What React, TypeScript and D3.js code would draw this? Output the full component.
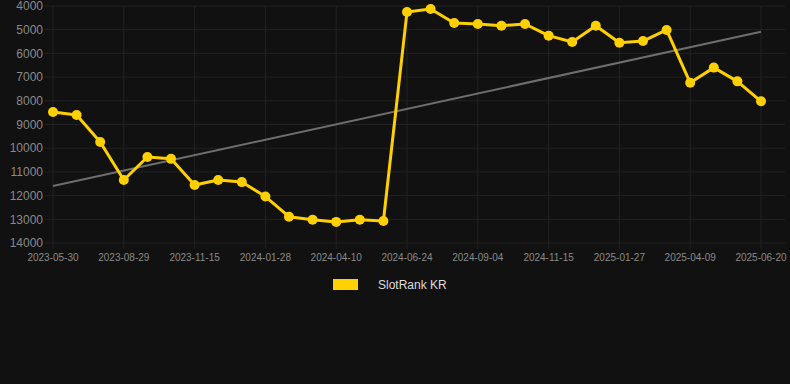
import React from "react";
import * as d3 from "d3";

const dates = [
  "2023-05-30","2023-06-22","2023-07-25","2023-08-29","2023-09-20","2023-10-18",
  "2023-11-15","2023-12-08","2024-01-05","2024-01-28","2024-02-20","2024-03-15",
  "2024-04-10","2024-05-05","2024-05-30","2024-06-24","2024-07-15","2024-08-10",
  "2024-09-04","2024-09-28","2024-10-22","2024-11-15","2024-12-10","2025-01-03",
  "2025-01-27","2025-02-20","2025-03-16","2025-04-09","2025-05-03","2025-05-27",
  "2025-06-20",
];
const ranks = [
  8470, 8600, 9740, 11340, 10370, 10450, 11550, 11340, 11430, 12040,
  12890, 13020, 13110, 13020, 13070, 4250, 4130, 4720, 4760, 4830,
  4760, 5250, 5520, 4830, 5550, 5480, 5010, 7240, 6600, 7180, 8020,
];
const yTicks = [4000, 5000, 6000, 7000, 8000, 9000, 10000, 11000, 12000, 13000, 14000];
const seriesName = "SlotRank KR";

const W = 790, H = 384;
const M = { left: 53, right: 29, top: 6, bottom: 141 };

export default function App() {
  const x = d3.scalePoint<number>().domain(d3.range(ranks.length)).range([M.left, W - M.right]);
  const y = d3.scaleLinear().domain([4000, 14000]).range([M.top, H - M.bottom]);

  // linear regression trend
  const n = ranks.length;
  const xs = d3.range(n);
  const mx = d3.mean(xs)!, my = d3.mean(ranks)!;
  const slope = d3.sum(xs, (i) => (i - mx) * (ranks[i] - my)) / d3.sum(xs, (i) => (i - mx) ** 2);
  const icpt = my - slope * mx;

  const line = d3.line<number>().x((_, i) => x(i)!).y((v) => y(v));
  const labelIdx = xs.filter((i) => i % 3 === 0);

  return (
    <div style={{ position: "fixed", left: 0, top: 0, width: W, height: H, background: "#111111" }}>
      <svg width={W} height={H} style={{ display: "block", fontFamily: "Arial, 'Liberation Sans', sans-serif" }}>
        <rect width={W} height={H} fill="#111111" />
        {yTicks.map((t) => (
          <g key={t}>
            <line x1={M.left - 8} x2={W - 5} y1={y(t)} y2={y(t)} stroke="#222222" strokeWidth={1} />
            <text x={M.left - 10} y={y(t)} dy="0.35em" textAnchor="end" fill="#8a8a8a" fontSize={12}>{t}</text>
          </g>
        ))}
        {labelIdx.map((i) => (
          <g key={i}>
            <line x1={x(i)} x2={x(i)} y1={M.top} y2={y(14000) + 6} stroke="#222222" strokeWidth={1} />
            <text x={x(i)} y={y(14000) + 18} textAnchor="middle" fill="#8a8a8a" fontSize={10}>{dates[i]}</text>
          </g>
        ))}
        <line
          x1={x(0)} y1={y(icpt)} x2={x(n - 1)} y2={y(icpt + slope * (n - 1))}
          stroke="#6e6e6e" strokeWidth={2}
        />
        <path d={line(ranks) || ""} fill="none" stroke="#FFD000" strokeWidth={3} strokeLinejoin="round" />
        {ranks.map((v, i) => (
          <circle key={i} cx={x(i)} cy={y(v)} r={5} fill="#FFD000" />
        ))}
        <rect x={333} y={279} width={25} height={11} fill="#FFD000" />
        <text x={378} y={284.5} dy="0.35em" fill="#dddddd" fontSize={12}>{seriesName}</text>
      </svg>
    </div>
  );
}
